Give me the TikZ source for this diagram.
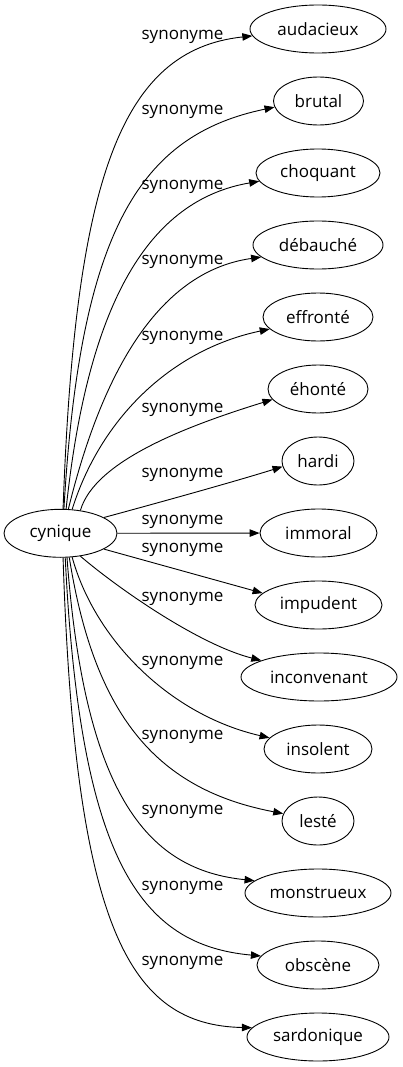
\documentclass[tikz,border=0pt]{standalone}
\usepackage{fontspec}
\setmainfont{Open Sans}
\usetikzlibrary{shapes.geometric,arrows.meta}
\newcommand\gvfont{\fontsize{17}{20}\selectfont}
\begin{document}
\begin{tikzpicture}[x=1pt,y=-1pt,
  ell/.style={draw,ellipse,line width=0.9pt,inner sep=0pt,minimum height=48pt,font=\gvfont},
  lab/.style={inner sep=0pt,font=\gvfont},
  syn/.style={line width=0.9pt,-{Triangle[length=10pt,width=7.5pt]}}]
\useasboundingbox (0,0) rectangle (402,1067);
\node[ell,minimum width=113pt] (cyn) at (60.5,533.3) {cynique};
\node[ell,minimum width=136pt] (aud) at (318,29) {audacieux};
\node[ell,minimum width=90pt] (bru) at (318.5,101) {brutal};
\node[ell,minimum width=124pt] (cho) at (318,173) {choquant};
\node[ell,minimum width=130pt] (deb) at (318,245) {débauché};
\node[ell,minimum width=110pt] (eff) at (318,317) {effronté};
\node[ell,minimum width=100pt] (eho) at (318,389) {éhonté};
\node[ell,minimum width=72pt] (har) at (318,461) {hardi};
\node[ell,minimum width=117pt] (imm) at (318.5,533) {immoral};
\node[ell,minimum width=127pt] (imp) at (318.5,605) {impudent};
\node[ell,minimum width=156pt] (inc) at (319,677) {inconvenant};
\node[ell,minimum width=108pt] (ins) at (318,749) {insolent};
\node[ell,minimum width=72pt] (les) at (318,821) {lesté};
\node[ell,minimum width=146pt] (mon) at (318,893) {monstrueux};
\node[ell,minimum width=122pt] (obs) at (318,965) {obscène};
\node[ell,minimum width=142pt] (sar) at (318,1037) {sardonique};

\node[lab] (l1) at (182.5,37) {synonyme};
\node[lab] (l2) at (182.5,112) {synonyme};
\node[lab] (l3) at (182.5,187) {synonyme};
\node[lab] (l4) at (182.5,262) {synonyme};
\node[lab] (l5) at (182.5,338) {synonyme};
\node[lab] (l6) at (182.5,410) {synonyme};
\node[lab] (l7) at (182.5,475) {synonyme};
\node[lab] (l8) at (182.5,522) {synonyme};
\node[lab] (l9) at (182.5,550) {synonyme};
\node[lab] (l10) at (182.5,599) {synonyme};
\node[lab] (l11) at (182.5,663) {synonyme};
\node[lab] (l12) at (182.5,737) {synonyme};
\node[lab] (l13) at (182.5,812) {synonyme};
\node[lab] (l14) at (182.5,888) {synonyme};
\node[lab] (l15) at (182.5,963) {synonyme};

\draw[syn] (cyn.84) .. controls (75,178) and (121,50) .. (aud.186);
\draw[syn] (cyn.82) .. controls (80,230) and (140,135) .. (bru.188);
\draw[syn] (cyn.77) .. controls (88,300) and (150,200) .. (cho.188);
\draw[syn] (cyn.72) .. controls (100,380) and (155,272) .. (deb.192);
\draw[syn] (cyn.64) .. controls (100,420) and (170,350) .. (eff.194);
\draw[syn] (cyn.49) .. controls (95,460) and (190,425) .. (eho.193);
\draw[syn] (cyn.20) .. controls (150,505) and (230,483) .. (har.189);
\draw[syn] (cyn) -- (imm);
\draw[syn] (cyn.-20) -- (imp.168);
\draw[syn] (cyn.-49) .. controls (120,590) and (200,645) .. (inc.164);
\draw[syn] (cyn.-64) .. controls (95,640) and (170,715) .. (ins.167);
\draw[syn] (cyn.-70) .. controls (95,720) and (160,790) .. (les.168);
\draw[syn] (cyn.-75) .. controls (85,800) and (150,870) .. (mon.169);
\draw[syn] (cyn.-79) .. controls (80,860) and (140,945) .. (obs.171);
\draw[syn] (cyn.-84) .. controls (75,930) and (130,1025) .. (sar.172);
\end{tikzpicture}
\end{document}
